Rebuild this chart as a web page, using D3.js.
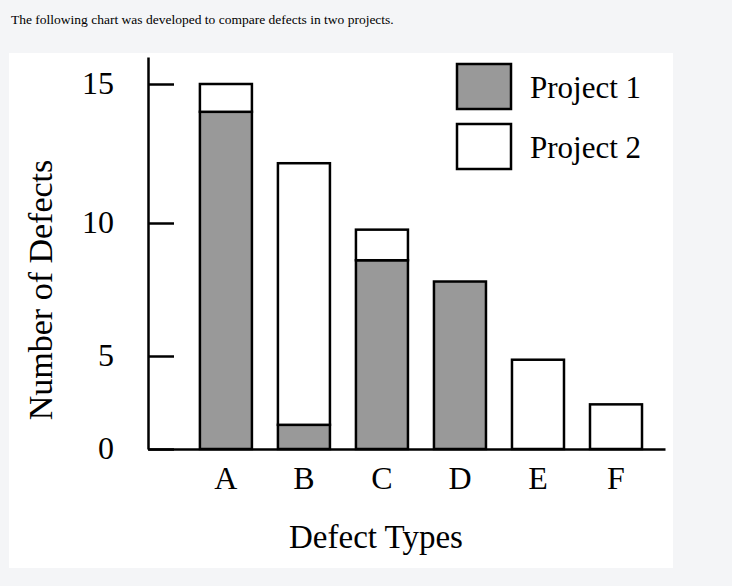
<!DOCTYPE html>
<html>
<head>
<meta charset="utf-8">
<script src="https://cdn.jsdelivr.net/npm/d3@7"></script>
<style>
  body { margin: 0; background: #f4f5f7; }
  svg { display: block; font-family: "Liberation Serif", "Times New Roman", serif; }
</style>
</head>
<body>
<div id="chart"></div>
<script>
var defectTypes = ["A", "B", "C", "D", "E", "F"];
var project1 = [14, 1.3, 8.6, 7.8, 0, 0];
var project2 = [1, 10.85, 1.15, 0, 4.8, 2.4];
var seriesNames = ["Project 1", "Project 2"];
var yTicks = [0, 5, 10, 15];

var width = 732, height = 586;
var colors = ["#999999", "#ffffff"];

var rows = defectTypes.map(function(t, i){
  return { type: t, "Project 1": project1[i], "Project 2": project2[i] };
});
var stacked = d3.stack().keys(seriesNames)(rows);

var svg = d3.select("#chart").append("svg")
    .attr("width", width)
    .attr("height", height);

svg.append("rect")
    .attr("x", 9).attr("y", 53)
    .attr("width", 664).attr("height", 515)
    .attr("fill", "#ffffff");

svg.append("text")
    .attr("x", 11).attr("y", 24)
    .attr("font-size", 13.5)
    .attr("fill", "#000")
    .text("The following chart was developed to compare defects in two projects.");

// axis spacing in the original drawing is uneven, so the scale is piecewise
var xScale = d3.scaleBand()
    .domain(defectTypes)
    .range([148, 665])
    .paddingInner(1/3)
    .paddingOuter(0.48)
    .align(0.693);

var yScale = d3.scaleLinear()
    .domain([0, 5, 10, 15, 16])
    .range([449, 356, 223, 84, 57]);

// bars
svg.append("g").selectAll("g")
  .data(stacked)
  .enter().append("g")
    .attr("fill", function(d, i){ return colors[i]; })
  .selectAll("rect")
  .data(function(d){ return d.filter(function(s){ return s[1] - s[0] > 0; }); })
  .enter().append("rect")
    .attr("x", function(d){ return xScale(d.data.type); })
    .attr("y", function(d){ return yScale(d[1]); })
    .attr("width", xScale.bandwidth())
    .attr("height", function(d){ return yScale(d[0]) - yScale(d[1]); })
    .attr("stroke", "#000")
    .attr("stroke-width", 2.5);

// y axis
var yAxis = svg.append("g")
    .attr("transform", "translate(148,0)")
    .call(d3.axisLeft(yScale).tickValues(yTicks).tickSizeInner(-26).tickSizeOuter(0).tickPadding(34));
yAxis.selectAll("line").attr("stroke", "#000").attr("stroke-width", 2.5);
yAxis.select(".domain").attr("stroke", "#000").attr("stroke-width", 2.5);
yAxis.selectAll("text")
    .attr("font-family", "Liberation Serif")
    .attr("font-size", 32)
    .attr("fill", "#000")
    .attr("dy", "0.3em");

// x axis
var xAxis = svg.append("g")
    .attr("transform", "translate(0,449)")
    .call(d3.axisBottom(xScale).tickSize(0).tickPadding(17));
xAxis.select(".domain").attr("stroke", "#000").attr("stroke-width", 2.5);
xAxis.selectAll("text")
    .attr("font-family", "Liberation Serif")
    .attr("font-size", 32)
    .attr("fill", "#000");

svg.append("text")
    .attr("x", 376).attr("y", 548)
    .attr("text-anchor", "middle")
    .attr("font-size", 33)
    .text("Defect Types");

svg.append("text")
    .attr("transform", "translate(52,290) rotate(-90)")
    .attr("text-anchor", "middle")
    .attr("font-size", 34)
    .text("Number of Defects");

// legend
var legend = svg.append("g")
    .attr("transform", "translate(457,64)")
  .selectAll("g")
  .data(seriesNames)
  .enter().append("g")
    .attr("transform", function(d, i){ return "translate(0," + (i * 60) + ")"; });

legend.append("rect")
    .attr("width", 54).attr("height", 45)
    .attr("fill", function(d, i){ return colors[i]; })
    .attr("stroke", "#000")
    .attr("stroke-width", 2.5);

legend.append("text")
    .attr("x", 73).attr("y", 34)
    .attr("font-size", 31)
    .text(function(d){ return d; });
</script>
</body>
</html>
